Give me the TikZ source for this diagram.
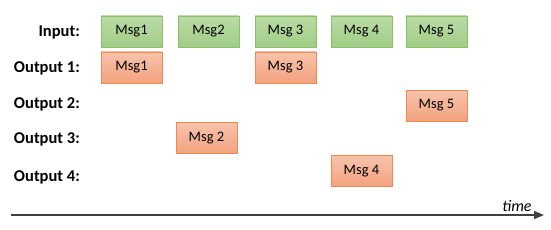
\documentclass[tikz,border=0pt]{standalone}
\usepackage{fontspec}
\setmainfont{Carlito}
\usetikzlibrary{arrows.meta}
\definecolor{gtop}{HTML}{BBDCA6}
\definecolor{gbot}{HTML}{A0CC86}
\definecolor{gline}{HTML}{8CC068}
\definecolor{otop}{HTML}{F7C3AB}
\definecolor{obot}{HTML}{F2A27F}
\definecolor{oline}{HTML}{EE8A4E}
\tikzset{
  box/.style={rectangle, minimum width=61pt, minimum height=31pt, inner sep=0pt, font=\fontsize{14.5}{16}\selectfont, line width=0.8pt},
  inbox/.style={box, draw=gline, top color=gtop, bottom color=gbot},
  outbox/.style={box, draw=oline, top color=otop, bottom color=obot},
  lab/.style={anchor=east, inner sep=0pt, font=\fontsize{16.5}{18}\selectfont\bfseries},
}
\begin{document}
\begin{tikzpicture}[x=1pt, y=-1pt]
\useasboundingbox (0,0) rectangle (551,230);
% labels
\node[lab] (lin) at (80,32) {Input:};
\node[lab] (lo1) at (80,68) {Output 1:};
\node[lab] (lo2) at (80,104) {Output 2:};
\node[lab] (lo3) at (80,139) {Output 3:};
\node[lab] (lo4) at (80,177) {Output 4:};
% input row
\node[inbox] (i1) at (131.5,31.5) {Msg1};
\node[inbox] (i2) at (208.5,31.5) {Msg2};
\node[inbox] (i3) at (285.5,31.5) {Msg 3};
\node[inbox] (i4) at (361.5,31.5) {Msg 4};
\node[inbox] (i5) at (436.5,31.5) {Msg 5};
% outputs
\node[outbox] (o1a) at (131.5,67.5) {Msg1};
\node[outbox] (o1b) at (285.5,67.5) {Msg 3};
\node[outbox] (o2) at (436.5,105.5) {Msg 5};
\node[outbox] (o3) at (206.5,138) {Msg 2};
\node[outbox] (o4) at (361.5,171) {Msg 4};
% time axis
\coordinate (t0) at (11,215);
\coordinate (t1) at (544,215);
\draw[line width=1.4pt, color=black!75, -{Triangle[length=10pt,width=8pt]}] (t0) -- (t1);
\node[font=\fontsize{16}{18}\selectfont\itshape, inner sep=0pt] (tl) at (517,206) {time};
\end{tikzpicture}
\end{document}
